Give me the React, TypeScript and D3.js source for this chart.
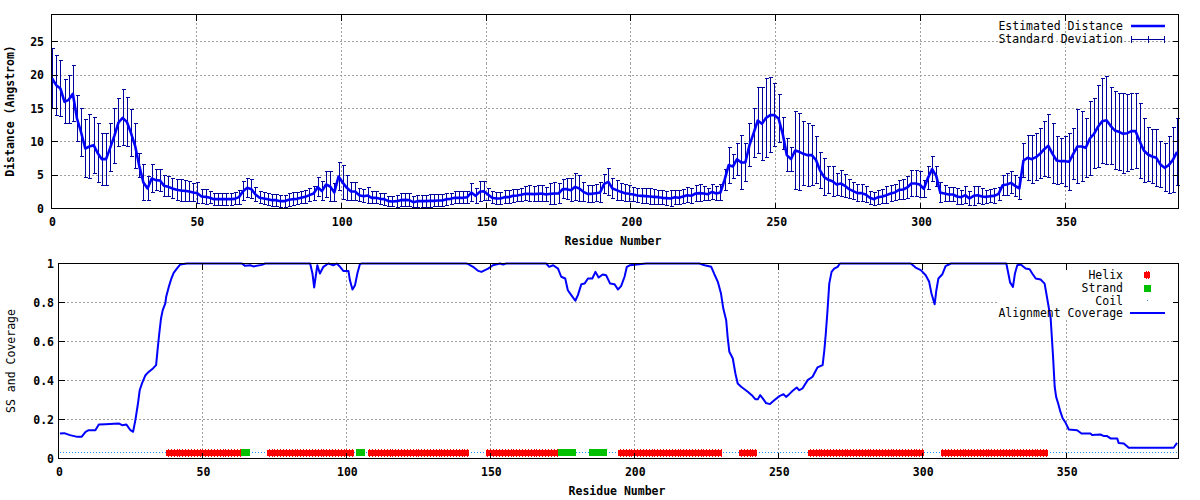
import React from "react";
import * as d3 from "d3";

const W = 1200;
const H = 500;
const FONT = "'DejaVu Sans Mono', 'Liberation Mono', monospace";

const xTickValues = [0, 50, 100, 150, 200, 250, 300, 350];
const distTickValues = [0, 5, 10, 15, 20, 25];
const covTickValues = [0, 0.2, 0.4, 0.6, 0.8, 1];
const covTickLabels = ["0", "0.2", "0.4", "0.6", "0.8", "1"];

// [estimated distance, standard deviation] at each plotted error bar
const distance: [number, number][] = [
  [19.5,4.5],[18.5,4.5],[18.0,4.2],[16.0,3.3],[16.3,3.6],[17.2,4.2],[13.5,3.5],[11.4,3.6],[9.0,4.3],[9.3,4.8],
  [9.5,4.2],[8.3,4.45],[7.4,3.9],[7.4,3.9],[9.1,3.6],[10.9,4.1],[12.9,3.6],[13.6,4.2],[13.0,3.65],[11.35,3.5],
  [9.4,3.4],[6.4,1.8],[3.9,2.7],[3.0,1.8],[4.5,2.05],[4.25,1.6],[4.2,1.7],[3.4,1.6],[3.25,1.5],[3.0,1.5],
  [2.8,1.55],[2.7,1.6],[2.65,1.55],[2.55,1.55],[2.4,1.4],[2.3,1.55],[1.8,1.05],[1.75,1.1],[1.6,0.9],[1.4,0.9],
  [1.4,0.9],[1.4,0.9],[1.4,0.9],[1.4,0.9],[1.45,0.9],[1.7,1.05],[2.6,1.4],[3.1,1.4],[2.9,1.4],[2.1,1.1],
  [1.6,0.9],[1.5,0.85],[1.4,0.9],[1.25,0.9],[1.25,0.9],[1.1,0.9],[1.1,0.9],[1.3,0.95],[1.4,0.95],[1.45,0.9],
  [1.6,0.9],[1.75,1.0],[2.0,1.0],[2.25,1.0],[3.2,1.45],[2.6,1.4],[3.6,1.9],[3.3,2.25],[2.4,1.4],[4.8,2.15],
  [3.9,2.6],[3.1,1.9],[2.55,1.3],[2.55,1.3],[2.0,1.0],[1.85,1.0],[1.95,1.2],[1.6,0.9],[1.6,0.9],[1.45,0.8],
  [1.4,0.9],[1.1,0.75],[1.05,0.8],[1.1,0.9],[1.25,1.0],[1.3,0.95],[1.25,1.0],[0.95,0.8],[1.1,0.9],[1.1,0.9],
  [1.1,0.9],[1.15,1.0],[1.15,0.9],[1.2,0.85],[1.2,0.85],[1.4,0.9],[1.45,0.8],[1.6,0.9],[1.6,0.9],[1.6,0.9],
  [1.7,0.9],[2.4,1.4],[1.9,1.1],[2.5,1.5],[2.6,1.4],[2.1,0.9],[1.6,0.9],[1.5,0.85],[1.5,0.85],[1.7,0.95],
  [1.7,0.95],[1.9,0.95],[1.95,0.95],[2.05,0.95],[2.2,1.05],[2.2,1.2],[2.15,1.1],[2.2,1.2],[2.25,1.25],[2.1,1.1],
  [2.2,1.55],[2.25,1.6],[2.25,1.5],[2.9,1.4],[2.9,1.6],[2.75,1.75],[3.25,2.0],[3.0,2.0],[2.5,1.45],[2.2,1.3],
  [2.2,1.3],[2.3,1.3],[2.4,1.45],[3.7,1.45],[4.0,2.0],[3.0,1.5],[2.75,1.5],[2.5,1.25],[2.3,1.3],[2.2,1.2],
  [2.1,1.1],[1.95,1.05],[1.9,1.1],[1.85,1.15],[1.8,1.15],[1.75,1.1],[1.7,1.05],[1.6,1.05],[1.55,1.05],[1.5,1.15],
  [1.7,1.05],[1.6,1.05],[1.8,1.05],[2.0,1.15],[1.9,1.1],[2.25,1.25],[2.3,1.3],[2.25,1.1],[2.15,0.9],[2.5,1.15],
  [2.25,1.1],[2.4,1.2],[4.3,1.6],[6.5,2.7],[6.3,1.75],[7.4,2.4],[6.9,4.1],[6.9,2.9],[9.5,3.2],[11.3,3.7],
  [13.2,5.0],[12.7,5.5],[13.6,5.9],[14.0,5.6],[14.0,4.7],[13.5,3.6],[11.2,2.4],[8.0,2.5],[7.4,1.8],[8.7,5.8],
  [8.5,5.8],[8.2,4.8],[8.0,4.7],[8.0,4.5],[7.3,3.5],[5.7,2.75],[4.7,2.75],[4.3,2.05],[4.1,2.25],[3.6,1.6],
  [3.75,2.0],[3.4,1.7],[2.9,1.4],[2.6,1.3],[2.3,1.25],[2.3,1.25],[2.1,1.2],[1.6,0.95],[1.4,0.95],[1.7,1.05],
  [1.8,1.05],[2.0,1.25],[2.25,1.25],[2.4,1.15],[2.8,1.45],[2.85,1.5],[3.15,1.7],[3.75,1.9],[3.75,1.9],[3.6,1.9],
  [2.95,1.3],[4.6,1.75],[5.9,1.9],[4.85,1.5],[2.35,1.5],[2.25,1.25],[2.1,1.1],[2.1,1.1],[1.8,1.15],[1.7,1.05],
  [2.0,1.25],[1.5,1.0],[1.9,1.4],[2.0,1.25],[1.8,1.15],[1.75,1.0],[1.85,1.0],[1.9,1.1],[2.2,0.95],[3.5,1.5],
  [3.6,1.6],[3.85,1.65],[3.4,1.6],[3.0,1.6],[7.2,2.5],[7.6,3.4],[7.4,3.6],[7.7,3.5],[8.2,3.75],[8.9,4.1],
  [9.4,4.7],[8.2,4.5],[7.2,3.6],[7.1,3.4],[7.1,3.75],[7.0,4.3],[8.2,3.8],[9.3,5.55],[9.3,5.3],[9.1,4.4],
  [10.5,5.6],[11.2,5.25],[12.3,6.2],[13.1,6.4],[13.25,6.6],[12.4,5.8],[11.7,5.8],[11.5,5.75],[11.2,6.0],[11.3,5.75],
  [11.6,5.7],[11.6,5.6],[10.1,5.6],[8.7,4.8],[8.1,4.1],[7.8,4.05],[7.6,4.25],[6.6,3.5],[6.1,3.6],[6.5,4.25],
  [7.3,4.9],[8.5,5.0],
];
const BAR_FIRST = 0.2;
const BAR_LAST = 388.5;

// [residue, alignment coverage]
const coverage: [number, number][] = [
  [0.5,0.128],[2,0.13],[4,0.12],[6.5,0.111],[8,0.111],[9.4,0.137],[10.5,0.145],[12.8,0.145],[14,0.174],[16.3,0.176],
  [20.9,0.18],[22.1,0.171],[23.6,0.174],[25,0.145],[25.9,0.137],[26.7,0.197],[27.6,0.282],[28.2,0.35],[29,0.385],[30.2,0.427],
  [31.3,0.444],[32.8,0.462],[33.9,0.479],[34.4,0.556],[35,0.641],[35.6,0.718],[36.2,0.761],[37.1,0.795],[37.4,0.829],[38.3,0.88],
  [39.2,0.923],[40,0.952],[41.1,0.974],[42.3,0.995],[44.6,1],[63.7,1],[64.8,0.988],[66.6,0.991],[67.7,0.985],[70.6,0.993],
  [71.8,1],[87.4,1],[88.2,0.949],[88.8,0.877],[89.4,0.94],[89.9,0.991],[90.8,0.949],[92,0.983],[93.7,1],[95.5,0.991],
  [96.6,1],[97.8,0.983],[98.9,0.962],[100.7,0.962],[101.2,0.915],[102.1,0.867],[103,0.889],[103.8,0.949],[104.7,0.997],[105.3,1],
  [141.7,1],[142.3,0.997],[144,0.983],[145.8,0.962],[146.9,0.957],[149.2,0.974],[150.9,0.991],[153.3,1],[154.4,0.995],[155.5,1],
  [169.4,1],[170.4,0.983],[171.8,0.991],[173.5,0.974],[174.6,0.932],[176,0.923],[176.9,0.863],[178.1,0.838],[179.5,0.809],[180.4,0.838],
  [181.6,0.894],[182.7,0.897],[183.9,0.923],[185.4,0.923],[186.5,0.957],[187.6,0.928],[189,0.944],[190.2,0.94],[191.6,0.897],[193.1,0.894],
  [194.3,0.867],[195.4,0.884],[196.6,0.932],[197.4,0.983],[198.4,0.991],[202.4,0.997],[204.1,1],[222.6,1],[224.4,0.991],[226.7,0.983],
  [227.8,0.945],[229,0.906],[230.1,0.846],[230.9,0.769],[231.9,0.709],[232.4,0.624],[233,0.547],[234.2,0.513],[235.1,0.436],[235.9,0.385],
  [237.1,0.368],[239.4,0.342],[241.1,0.32],[242,0.304],[242.9,0.304],[243.7,0.325],[244.6,0.308],[245.7,0.285],[247.1,0.279],[248.6,0.299],
  [250.4,0.32],[251.8,0.33],[252.7,0.316],[253.8,0.33],[255,0.347],[256.4,0.364],[257.3,0.35],[258.4,0.359],[260.2,0.402],[261.9,0.419],
  [263.6,0.467],[265.4,0.479],[266,0.556],[266.5,0.641],[267.1,0.761],[267.7,0.897],[268.5,0.957],[269.4,0.974],[270.6,0.983],[271.4,1],
  [296,1],[297.7,0.979],[299.5,0.966],[301.2,0.94],[302.4,0.906],[303.2,0.846],[304.3,0.791],[304.9,0.863],[305.6,0.923],[307,0.945],
  [308.1,0.986],[309.9,1],[329.2,1],[329.9,0.949],[330.5,0.903],[331.5,0.88],[332.2,0.949],[333,0.991],[334.2,0.995],[335.9,0.974],
  [337.3,0.971],[338.2,0.949],[339.4,0.923],[341.1,0.918],[342.5,0.897],[343.1,0.846],[343.7,0.795],[344.6,0.718],[345.4,0.53],[346,0.368],
  [346.5,0.316],[347.2,0.282],[348,0.239],[348.8,0.205],[349.8,0.183],[350.9,0.149],[353.8,0.145],[355.3,0.128],[358.4,0.128],[359,0.12],
  [361.9,0.123],[363.1,0.115],[364.2,0.115],[365.4,0.103],[367.7,0.103],[368.2,0.08],[370,0.077],[371.7,0.055],[387.3,0.055],[388.5,0.08],
];

// secondary structure segments [first residue, last residue]
const helixSegments: [number, number][] = [
  [38, 63], [73, 102], [108, 142], [149, 173], [195, 230], [237, 242], [261, 300], [307, 332], [333, 343],
];
const strandSegments: [number, number][] = [
  [64, 66], [104, 106], [174, 179], [185, 190],
];
const SS_LEVEL = 0.031;
const COIL_RANGE: [number, number] = [0.5, 388.5];

const C_LINE = "#0000ff";
const C_ERR = "#00009c";
const C_GRID = "#a0a0a0";
const C_HELIX = "#ff0000";
const C_STRAND = "#00c000";
const C_COIL = "#2090ff";

const snap = (v: number) => Math.floor(v) + 0.5;

export default function App() {
  // ---------- top panel ----------
  const t = { l: 51.5, r: 1178.5, t: 14.5, b: 208.5 };
  const x1 = d3.scaleLinear().domain([0, 389]).range([t.l, t.r]);
  const y1 = d3.scaleLinear().domain([0, 29.1]).range([t.b, t.t]);
  const step = (BAR_LAST - BAR_FIRST) / (distance.length - 1);
  const bars = distance.map((d, i) => ({ r: BAR_FIRST + i * step, m: d[0], sd: d[1] }));
  const meanLine = d3.line<{ r: number; m: number }>().x((d) => x1(d.r)).y((d) => y1(d.m))(bars) || "";

  // ---------- bottom panel ----------
  const b = { l: 58.5, r: 1178.5, t: 263.5, b: 458.5 };
  const x2 = d3.scaleLinear().domain([0, 389]).range([b.l, b.r]);
  const y2 = d3.scaleLinear().domain([0, 1]).range([b.b, b.t]);
  const covLine = d3.line<[number, number]>().x((d) => x2(d[0])).y((d) => y2(d[1]))(coverage) || "";
  const ssY = y2(SS_LEVEL);

  const legBox = { x: 999, y: 264, w: 179, h: 56 };

  const tickFont = { fontFamily: FONT, fontSize: 11.5, fontWeight: 700 as const };
  const legFont = { fontFamily: FONT, fontSize: 11.5 };

  const helixTeeth: number[] = [];
  helixSegments.forEach(([s, e]) => {
    for (let r = s; r <= e; r++) helixTeeth.push(r);
  });

  return (
    <div style={{ position: "absolute", left: 0, top: 0 }}>
      <svg width={W} height={H} style={{ display: "block", background: "#fff" }}>
        <rect x={0} y={0} width={W} height={H} fill="#fff" />

        {/* ===== TOP PANEL ===== */}
        <g shapeRendering="crispEdges">
          {xTickValues.filter((v) => v !== 0).map((v) => (
            <line key={"tgx" + v} x1={snap(x1(v))} x2={snap(x1(v))} y1={t.t} y2={t.b} stroke={C_GRID} strokeDasharray="2,2" />
          ))}
          {distTickValues.filter((v) => v !== 0).map((v) => (
            <line key={"tgy" + v} x1={t.l} x2={t.r} y1={snap(y1(v))} y2={snap(y1(v))} stroke={C_GRID} strokeDasharray="2,2" />
          ))}
        </g>

        <g shapeRendering="crispEdges">
          {bars.map((d, i) => {
            const x = Math.round(x1(d.r)) + 0.5;
            const yt = y1(d.m + d.sd);
            const yb = y1(Math.max(0, d.m - d.sd));
            return (
              <g key={"eb" + i} stroke={C_ERR} strokeWidth={1}>
                <line x1={x} x2={x} y1={yt} y2={yb} />
                <line x1={x - 2} x2={x + 2} y1={yt} y2={yt} />
                <line x1={x - 2} x2={x + 2} y1={yb} y2={yb} />
              </g>
            );
          })}
        </g>
        <path d={meanLine} fill="none" stroke={C_LINE} strokeWidth={2.6} strokeLinejoin="round" />

        {/* frame + ticks */}
        <g shapeRendering="crispEdges" stroke="#000">
          <rect x={t.l} y={t.t} width={t.r - t.l} height={t.b - t.t} fill="none" />
          {xTickValues.map((v) => (
            <g key={"ttx" + v}>
              <line x1={snap(x1(v))} x2={snap(x1(v))} y1={t.b} y2={t.b - 6} />
              <line x1={snap(x1(v))} x2={snap(x1(v))} y1={t.t} y2={t.t + 6} />
            </g>
          ))}
          {distTickValues.map((v) => (
            <g key={"tty" + v}>
              <line x1={t.l} x2={t.l + 6} y1={snap(y1(v))} y2={snap(y1(v))} />
              <line x1={t.r} x2={t.r - 6} y1={snap(y1(v))} y2={snap(y1(v))} />
            </g>
          ))}
        </g>
        {xTickValues.map((v) => (
          <text key={"tlx" + v} x={x1(v) + 1} y={226} textAnchor="middle" {...tickFont}>{v}</text>
        ))}
        {distTickValues.map((v) => (
          <text key={"tly" + v} x={44} y={y1(v) + 4} textAnchor="end" {...tickFont}>{v}</text>
        ))}
        <text x={613} y={245} textAnchor="middle" {...tickFont}>Residue Number</text>
        <text transform="translate(14,111) rotate(-90)" textAnchor="middle" {...tickFont}>Distance (Angstrom)</text>

        {/* top legend */}
        <text x={1123} y={30} textAnchor="end" {...legFont}>Estimated Distance</text>
        <line x1={1131} x2={1165} y1={26} y2={26} stroke={C_LINE} strokeWidth={2.6} />
        <text x={1123} y={43} textAnchor="end" {...legFont}>Standard Deviation</text>
        <g stroke={C_ERR} shapeRendering="crispEdges">
          <line x1={1131} x2={1165} y1={39.5} y2={39.5} />
          <line x1={1131.5} x2={1131.5} y1={36} y2={43} />
          <line x1={1164.5} x2={1164.5} y1={36} y2={43} />
          <line x1={1148.5} x2={1148.5} y1={36} y2={43} />
        </g>

        {/* ===== BOTTOM PANEL ===== */}
        <g shapeRendering="crispEdges">
          {xTickValues.filter((v) => v !== 0).map((v) => (
            <line key={"bgx" + v} x1={snap(x2(v))} x2={snap(x2(v))} y1={b.t} y2={b.b} stroke={C_GRID} strokeDasharray="2,2" />
          ))}
          {covTickValues.filter((v) => v !== 0 && v !== 1).map((v) => (
            <line key={"bgy" + v} x1={b.l} x2={b.r} y1={snap(y2(v))} y2={snap(y2(v))} stroke={C_GRID} strokeDasharray="2,2" />
          ))}
        </g>
        <rect x={legBox.x} y={legBox.y} width={legBox.w} height={legBox.h} fill="#fff" />

        {/* coil */}
        <line x1={x2(COIL_RANGE[0])} x2={x2(COIL_RANGE[1])} y1={Math.round(ssY) + 0.5} y2={Math.round(ssY) + 0.5}
          stroke={C_COIL} strokeWidth={1} strokeDasharray="1,2" shapeRendering="crispEdges" />
        {/* helices */}
        <g fill={C_HELIX} shapeRendering="crispEdges">
          {helixSegments.map(([s, e], i) => (
            <rect key={"h" + i} x={x2(s - 0.6)} y={Math.round(ssY) - 2.5} width={x2(e + 0.6) - x2(s - 0.6)} height={6} />
          ))}
          {helixTeeth.map((r) => (
            <rect key={"ht" + r} x={Math.round(x2(r))} y={Math.round(ssY) - 3.5} width={1} height={8} />
          ))}
        </g>
        {/* strands */}
        <g fill={C_STRAND} shapeRendering="crispEdges">
          {strandSegments.map(([s, e], i) => (
            <rect key={"s" + i} x={x2(s - 0.6)} y={Math.round(ssY) - 3} width={x2(e + 0.6) - x2(s - 0.6)} height={7} />
          ))}
        </g>

        <path d={covLine} fill="none" stroke={C_LINE} strokeWidth={2} strokeLinejoin="round" />

        <g shapeRendering="crispEdges" stroke="#000">
          <rect x={b.l} y={b.t} width={b.r - b.l} height={b.b - b.t} fill="none" />
          {xTickValues.map((v) => (
            <g key={"btx" + v}>
              <line x1={snap(x2(v))} x2={snap(x2(v))} y1={b.b} y2={b.b - 6} />
              <line x1={snap(x2(v))} x2={snap(x2(v))} y1={b.t} y2={b.t + 6} />
            </g>
          ))}
          {covTickValues.map((v) => (
            <g key={"bty" + v}>
              <line x1={b.l} x2={b.l + 6} y1={snap(y2(v))} y2={snap(y2(v))} />
              <line x1={b.r} x2={b.r - 6} y1={snap(y2(v))} y2={snap(y2(v))} />
            </g>
          ))}
        </g>
        {xTickValues.map((v) => (
          <text key={"blx" + v} x={x2(v) + 1} y={476} textAnchor="middle" {...tickFont}>{v}</text>
        ))}
        {covTickValues.map((v, i) => (
          <text key={"bly" + v} x={54} y={y2(v) + 4} textAnchor="end" {...tickFont}>{covTickLabels[i]}</text>
        ))}
        <text x={617} y={495} textAnchor="middle" {...tickFont}>Residue Number</text>
        <text transform="translate(15,361) rotate(-90)" textAnchor="middle" {...legFont}>SS and Coverage</text>

        {/* bottom legend */}
        <text x={1123} y={279} textAnchor="end" {...legFont}>Helix</text>
        <g fill={C_HELIX} shapeRendering="crispEdges">
          <rect x={1144} y={272} width={6} height={6} />
          <rect x={1146} y={271} width={1} height={8} />
          <rect x={1148} y={271} width={1} height={8} />
        </g>
        <text x={1123} y={292} textAnchor="end" {...legFont}>Strand</text>
        <rect x={1144} y={285} width={7} height={7} fill={C_STRAND} shapeRendering="crispEdges" />
        <text x={1123} y={305} textAnchor="end" {...legFont}>Coil</text>
        <rect x={1147} y={300} width={1} height={1} fill={C_COIL} shapeRendering="crispEdges" />
        <text x={1123} y={317} textAnchor="end" {...legFont}>Alignment Coverage</text>
        <line x1={1130} x2={1165} y1={313} y2={313} stroke={C_LINE} strokeWidth={2} />
      </svg>
    </div>
  );
}
